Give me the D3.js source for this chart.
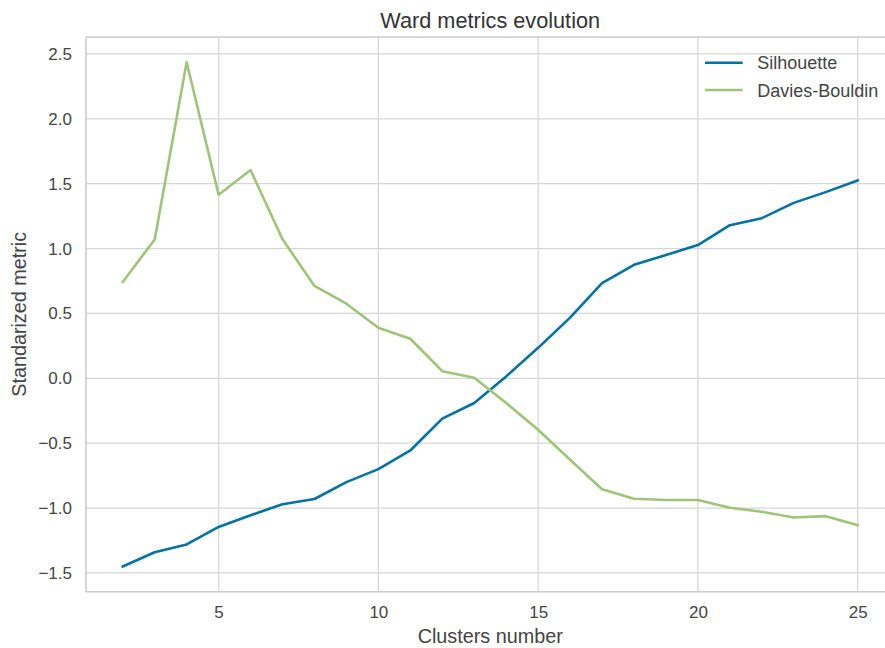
<!DOCTYPE html>
<html>
<head>
<meta charset="utf-8">
<script src="https://cdn.jsdelivr.net/npm/d3@7"></script>
<style>
  body { margin: 0; background: #fff; }
  text { font-family: "Liberation Sans", Arial, sans-serif; fill: #444; }
</style>
</head>
<body>
<div id="chart"></div>
<script>
var clusters = [2, 3, 4, 5, 6, 7, 8, 9, 10, 11, 12, 13, 14, 15, 16, 17, 18, 19, 20, 21, 22, 23, 24, 25];
var silhouette = [-1.45, -1.34, -1.28, -1.145, -1.055, -0.97, -0.93, -0.80, -0.70, -0.556, -0.31, -0.19, 0.015, 0.235, 0.468, 0.733, 0.875, 0.95, 1.027, 1.18, 1.234, 1.352, 1.435, 1.525];
var daviesBouldin = [0.743, 1.07, 2.436, 1.415, 1.605, 1.072, 0.712, 0.575, 0.39, 0.305, 0.055, 0.004, -0.19, -0.396, -0.628, -0.855, -0.928, -0.938, -0.938, -0.997, -1.028, -1.072, -1.062, -1.131];
var xTicks = [5, 10, 15, 20, 25];
var yTicks = [-1.5, -1.0, -0.5, 0.0, 0.5, 1.0, 1.5, 2.0, 2.5];

var series = [
  { name: "Silhouette", values: silhouette, color: "#0272a2" },
  { name: "Davies-Bouldin", values: daviesBouldin, color: "#9fc377" }
];

var W = 885, H = 648;
var margin = { top: 37, left: 86 };
var plotBottom = 591.7, plotRight = 894.4;

// matplotlib style 5% padding on both axes
var xExt = d3.extent(clusters);
var xPad = (xExt[1] - xExt[0]) * 0.05;
var allY = silhouette.concat(daviesBouldin);
var yExt = d3.extent(allY);
var yPad = (yExt[1] - yExt[0]) * 0.05;

var x = d3.scaleLinear().domain([xExt[0] - xPad, xExt[1] + xPad]).range([margin.left, plotRight]);
var y = d3.scaleLinear().domain([yExt[0] - yPad, yExt[1] + yPad]).range([plotBottom, margin.top]);

var svg = d3.select("#chart").append("svg")
  .attr("width", W)
  .attr("height", H);

// grid
svg.append("g")
  .selectAll("line.h")
  .data(yTicks)
  .enter()
  .append("line")
  .attr("x1", margin.left).attr("x2", plotRight)
  .attr("y1", function (d) { return y(d); })
  .attr("y2", function (d) { return y(d); })
  .attr("stroke", "#d6d6d6")
  .attr("stroke-width", 1.3);

svg.append("g")
  .selectAll("line.v")
  .data(xTicks)
  .enter()
  .append("line")
  .attr("y1", margin.top).attr("y2", plotBottom)
  .attr("x1", function (d) { return x(d); })
  .attr("x2", function (d) { return x(d); })
  .attr("stroke", "#d6d6d6")
  .attr("stroke-width", 1.3);

// axes (no tick marks, labels only)
var xAxis = d3.axisBottom(x).tickValues(xTicks).tickSize(0).tickPadding(14).tickFormat(d3.format("d"));
var yAxis = d3.axisLeft(y).tickValues(yTicks).tickSize(0).tickPadding(14).tickFormat(d3.format(".1f"));

var gx = svg.append("g")
  .attr("transform", "translate(0," + plotBottom + ")")
  .call(xAxis);
var gy = svg.append("g")
  .attr("transform", "translate(" + margin.left + ",0)")
  .call(yAxis);

[gx, gy].forEach(function (g) {
  g.select(".domain").remove();
  g.selectAll("text")
    .style("font-family", '"Liberation Sans", Arial, sans-serif')
    .style("font-size", "17px")
    .style("fill", "#444");
});

// spines
svg.append("line")
  .attr("x1", margin.left).attr("x2", plotRight)
  .attr("y1", margin.top).attr("y2", margin.top)
  .attr("stroke", "#cccccc").attr("stroke-width", 1.6);
svg.append("line")
  .attr("x1", margin.left).attr("x2", plotRight)
  .attr("y1", plotBottom).attr("y2", plotBottom)
  .attr("stroke", "#cccccc").attr("stroke-width", 1.6);
svg.append("line")
  .attr("x1", margin.left).attr("x2", margin.left)
  .attr("y1", margin.top).attr("y2", plotBottom)
  .attr("stroke", "#cccccc").attr("stroke-width", 1.6);

// lines
var line = d3.line()
  .x(function (d, i) { return x(clusters[i]); })
  .y(function (d) { return y(d); });

svg.selectAll(".series")
  .data(series)
  .enter()
  .append("path")
  .attr("class", "series")
  .attr("d", function (d) { return line(d.values); })
  .attr("fill", "none")
  .attr("stroke", function (d) { return d.color; })
  .attr("stroke-width", 2.6)
  .attr("stroke-linejoin", "round")
  .attr("stroke-linecap", "square");

// title & labels
svg.append("text")
  .attr("x", (margin.left + plotRight) / 2)
  .attr("y", 28)
  .attr("text-anchor", "middle")
  .style("font-size", "21.7px")
  .style("fill", "#333")
  .text("Ward metrics evolution");

svg.append("text")
  .attr("x", (margin.left + plotRight) / 2)
  .attr("y", 643)
  .attr("text-anchor", "middle")
  .style("font-size", "19.8px")
  .style("fill", "#444")
  .text("Clusters number");

svg.append("text")
  .attr("transform", "translate(26," + (margin.top + plotBottom) / 2 + ") rotate(-90)")
  .attr("text-anchor", "middle")
  .style("font-size", "19.8px")
  .style("fill", "#444")
  .text("Standarized metric");

// legend
var legend = svg.selectAll(".legend")
  .data(series)
  .enter()
  .append("g")
  .attr("class", "legend")
  .attr("transform", function (d, i) { return "translate(705," + (62.7 + i * 27.3) + ")"; });

legend.append("line")
  .attr("x1", 0).attr("x2", 37.7)
  .attr("y1", 0).attr("y2", 0)
  .attr("stroke", function (d) { return d.color; })
  .attr("stroke-width", 2.6);

legend.append("text")
  .attr("x", 52.3)
  .attr("y", 6.5)
  .style("font-size", "18px")
  .style("fill", "#444")
  .text(function (d) { return d.name; });
</script>
</body>
</html>
